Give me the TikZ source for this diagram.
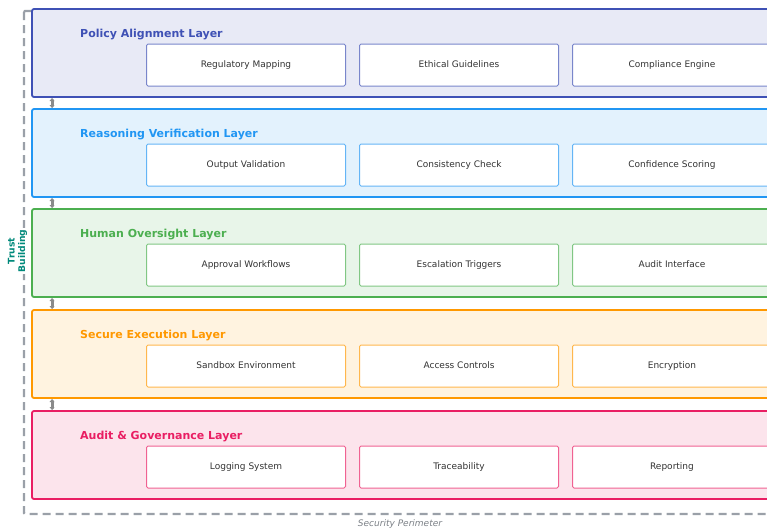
\documentclass[tikz,border=0pt]{standalone}
\usepackage{fontspec}
\setmainfont{DejaVu Sans}
\usetikzlibrary{arrows.meta}
\definecolor{indigoD}{HTML}{3F51B5}\definecolor{indigoL}{HTML}{E8EAF6}\definecolor{indigoM}{HTML}{7986CB}
\definecolor{blueD}{HTML}{2196F3}\definecolor{blueL}{HTML}{E3F2FD}\definecolor{blueM}{HTML}{64B5F6}
\definecolor{greenD}{HTML}{4CAF50}\definecolor{greenL}{HTML}{E8F5E9}\definecolor{greenM}{HTML}{81C784}
\definecolor{orangeD}{HTML}{FF9800}\definecolor{orangeL}{HTML}{FFF3E0}\definecolor{orangeM}{HTML}{FFB74D}
\definecolor{pinkD}{HTML}{E91E63}\definecolor{pinkL}{HTML}{FCE4EC}\definecolor{pinkM}{HTML}{F06292}
\definecolor{perim}{HTML}{9AA0A8}
\definecolor{tealT}{HTML}{00897B}
\definecolor{linkG}{HTML}{8A8A8A}
\definecolor{txt}{HTML}{333333}
\tikzset{
  layerbox/.style={draw=#1D, fill=#1L, line width=1.8pt, rounded corners=2pt},
  layertitle/.style={text=#1D, font=\bfseries\fontsize{11}{13}\selectfont, anchor=west, inner sep=0pt},
  compbox/.style={draw=#1M, fill=white, line width=1pt, rounded corners=1.5pt,
    minimum width=199pt, minimum height=42pt, anchor=north west, inner sep=0pt,
    text height=6.8pt, text depth=1.9pt,
    text=txt, font=\fontsize{9}{11}\selectfont},
  linkbar/.style={draw=linkG, line width=3pt, line cap=round},
  linkhead/.style={fill=linkG},
}
\begin{document}
\begin{tikzpicture}[x=1pt,y=-1pt]
\useasboundingbox (0,0) rectangle (767,531);
\clip (0,0) rectangle (767,531);
% security perimeter
\draw[perim, line width=2.4pt, dash pattern=on 8pt off 5pt, rounded corners=1pt]
  (24,11) rectangle (800,514);
\node[text=perim!80!black, font=\itshape\fontsize{9}{11}\selectfont] (perimlabel) at (400,524) {Security Perimeter};
% trust building label, set on white over the perimeter line
\node[fill=white, inner sep=1.5pt, text=tealT, font=\bfseries\fontsize{9.2}{10.5}\selectfont, rotate=90, align=center] (trust) at (17.5,251) {Trust\\Building};
% layers
\foreach \i/\y/\c/\t/\a/\b/\cc in {
  1/9/indigo/Policy Alignment Layer/Regulatory Mapping/Ethical Guidelines/Compliance Engine,
  2/109/blue/Reasoning Verification Layer/Output Validation/Consistency Check/Confidence Scoring,
  3/209/green/Human Oversight Layer/Approval Workflows/Escalation Triggers/Audit Interface,
  4/310/orange/Secure Execution Layer/Sandbox Environment/Access Controls/Encryption,
  5/411/pink/Audit \& Governance Layer/Logging System/Traceability/Reporting}{
  \draw[layerbox=\c] (32,\y) rectangle (790,\y+88);
  \coordinate (L\i top) at (52,\y);
  \coordinate (L\i bot) at (52,\y+88);
  \node[layertitle=\c] (title\i) at (80,\y+25.5) {\t};
  \node[compbox=\c] (c\i a) at (146,\y+34.5) {\a};
  \node[compbox=\c] (c\i b) at (359,\y+34.5) {\b};
  \node[compbox=\c] (c\i c) at (572,\y+34.5) {\cc};
}
% two-way links between neighbouring layers (shifts are in page pt: negative is downward)
\foreach \i/\j in {1/2,2/3,3/4,4/5}{
  \draw[linkbar] ([yshift=-3pt]L\i bot) -- ([yshift=3pt]L\j top);
  \fill[linkhead] ([yshift=-1pt]L\i bot) -- ([shift={(2.5pt,-4pt)}]L\i bot) -- ([shift={(-2.5pt,-4pt)}]L\i bot) -- cycle;
  \fill[linkhead] ([yshift=1pt]L\j top) -- ([shift={(2.5pt,4pt)}]L\j top) -- ([shift={(-2.5pt,4pt)}]L\j top) -- cycle;
}
\end{tikzpicture}
\end{document}
